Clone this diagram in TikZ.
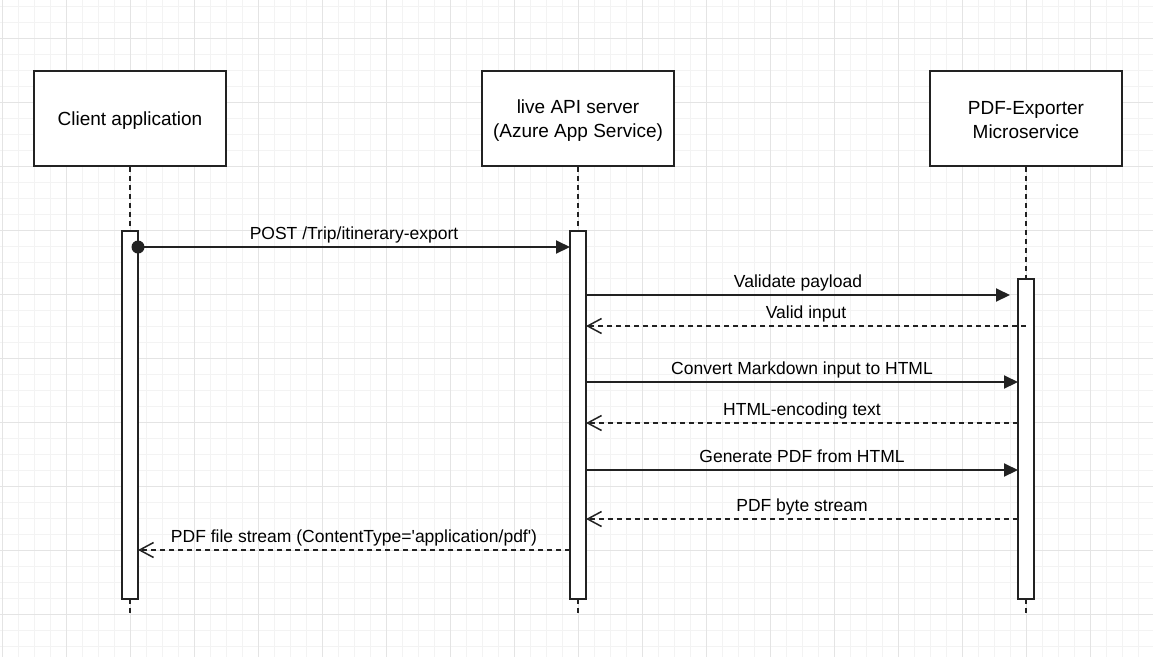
\documentclass[tikz,border=0pt]{standalone}
\usepackage{fontspec}
\setmainfont{Liberation Sans}
\usetikzlibrary{arrows.meta}
\definecolor{ln}{HTML}{222222}
\definecolor{gmin}{HTML}{F3F3F3}
\definecolor{gmaj}{HTML}{E4E4E4}
\begin{document}
\begin{tikzpicture}[x=1pt,y=-1pt,
 actor/.style={draw=ln, line width=2pt, fill=white, minimum width=192pt, minimum height=95pt, inner sep=0pt},
 actortext/.style={align=center, font=\fontsize{19}{24}\selectfont, inner sep=0pt, text=black},
 actbar/.style={draw=ln, line width=2pt, fill=white, minimum width=16pt, inner sep=0pt},
 life/.style={draw=ln, line width=1.5pt, dash pattern=on 5pt off 4pt},
 call/.style={draw=ln, line width=2pt, -{Triangle[length=14pt,width=13pt]}},
 reply/.style={draw=ln, line width=1.5pt, dash pattern=on 5pt off 4pt, -{Straight Barb[length=14pt,width=15pt]}},
 lbl/.style={midway, anchor=base, yshift=8pt, font=\fontsize{17.5}{21}\selectfont, inner sep=0pt, text=black}]
\useasboundingbox (0,0) rectangle (1153,657);
\fill[white] (0,0) rectangle (1153,657);
% grid
\foreach \x in {2,18,...,1150} \draw[gmin, line width=1pt] (\x,0) -- (\x,657);
\foreach \y in {6,22,...,646} \draw[gmin, line width=1pt] (0,\y) -- (1153,\y);
\foreach \x in {2,66,...,1150} \draw[gmaj, line width=1pt] (\x,0) -- (\x,657);
\foreach \y in {38,102,...,646} \draw[gmaj, line width=1pt] (0,\y) -- (1153,\y);
% actors
\node[actor] (c) at (130,118.5) {};
\node[actor] (s) at (578,118.5) {};
\node[actor] (p) at (1026,118.5) {};
\node[actortext] (ct) at ([yshift=-2pt]c.center) {Client application};
\node[actortext] (st) at ([yshift=-2pt]s.center) {live API server\\(Azure App Service)};
\node[actortext] (pt) at ([yshift=-2pt]p.center) {PDF-Exporter\\Microservice};
% lifelines
\coordinate (ce) at (130,615);
\coordinate (se) at (578,615);
\coordinate (pe) at (1026,615);
\draw[life] (c.south) -- (ce);
\draw[life] (s.south) -- (se);
\draw[life] (p.south) -- (pe);
% activation bars
\node[actbar, minimum height=368pt] (ca) at (130,415) {};
\node[actbar, minimum height=368pt] (sa) at (578,415) {};
\node[actbar, minimum height=320pt] (pa) at (1026,439) {};
% message end points
\coordinate (m1s) at (138,247);  \coordinate (m1e) at (570,247);
\coordinate (m2s) at (586,295);  \coordinate (m2e) at (1010,295);
\coordinate (m3s) at (1026,326); \coordinate (m3e) at (586,326);
\coordinate (m4s) at (586,382);  \coordinate (m4e) at (1018,382);
\coordinate (m5s) at (1018,423); \coordinate (m5e) at (586,423);
\coordinate (m6s) at (586,470);  \coordinate (m6e) at (1018,470);
\coordinate (m7s) at (1018,519); \coordinate (m7e) at (586,519);
\coordinate (m8s) at (570,550);  \coordinate (m8e) at (138,550);
% messages
\draw[call] (m1s) -- (m1e) node[lbl] {POST /Trip/itinerary-export};
\fill[ln] (m1s) circle (6.5pt);
\draw[call] (m2s) -- (m2e) node[lbl] {Validate payload};
\draw[reply] (m3s) -- (m3e) node[lbl] {Valid input};
\draw[call] (m4s) -- (m4e) node[lbl] {Convert Markdown input to HTML};
\draw[reply] (m5s) -- (m5e) node[lbl] {HTML-encoding text};
\draw[call] (m6s) -- (m6e) node[lbl] {Generate PDF from HTML};
\draw[reply] (m7s) -- (m7e) node[lbl] {PDF byte stream};
\draw[reply] (m8s) -- (m8e) node[lbl] {PDF file stream (ContentType=\textquotesingle application/pdf\textquotesingle)};
\end{tikzpicture}
\end{document}
